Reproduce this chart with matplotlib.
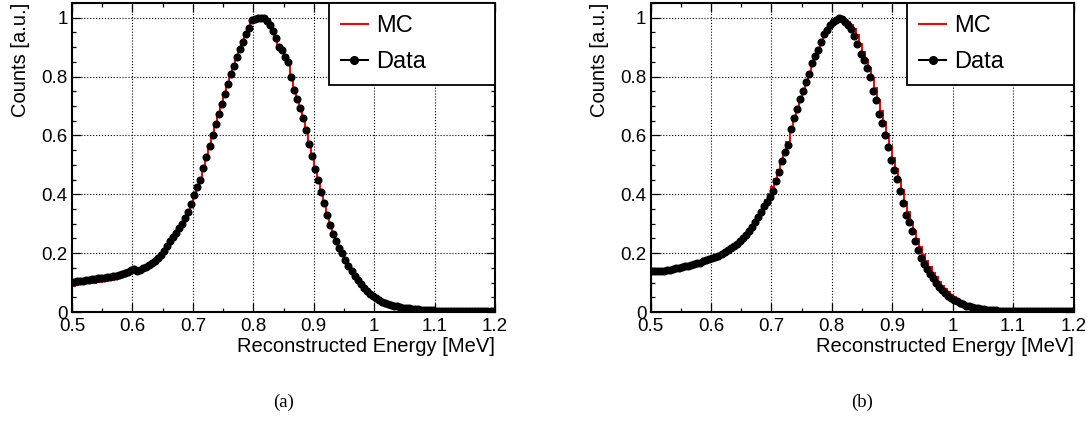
import matplotlib
matplotlib.use("Agg")
import matplotlib.pyplot as plt
from matplotlib.lines import Line2D
from matplotlib.ticker import MultipleLocator, FuncFormatter
import numpy as np

# Histogram range (MeV), 140 bins of 5 keV
e_min, e_max = 0.5, 1.2

# (a) normalised counts per bin
data_a = [
    0.102, 0.104, 0.105, 0.107, 0.108, 0.110, 0.111, 0.112, 0.114, 0.115,
    0.116, 0.118, 0.120, 0.122, 0.124, 0.127, 0.130, 0.133, 0.137, 0.142,
    0.147, 0.141, 0.144, 0.149, 0.154, 0.159, 0.166, 0.174, 0.183, 0.195,
    0.208, 0.224, 0.240, 0.254, 0.268, 0.285, 0.300, 0.318, 0.340, 0.368,
    0.398, 0.425, 0.448, 0.488, 0.527, 0.563, 0.600, 0.638, 0.672, 0.708,
    0.742, 0.776, 0.808, 0.836, 0.866, 0.893, 0.918, 0.945, 0.965, 0.993,
    0.996, 1.000, 1.000, 0.999, 0.990, 0.975, 0.955, 0.930, 0.902, 0.890,
    0.868, 0.850, 0.800, 0.755, 0.725, 0.693, 0.660, 0.620, 0.572, 0.530,
    0.487, 0.447, 0.408, 0.370, 0.330, 0.295, 0.265, 0.240, 0.218, 0.200,
    0.178, 0.158, 0.140, 0.124, 0.108, 0.094, 0.082, 0.071, 0.062, 0.053,
    0.046, 0.040, 0.035, 0.031, 0.027, 0.024, 0.021, 0.019, 0.017, 0.015,
    0.013, 0.012, 0.011, 0.010, 0.009, 0.008, 0.007, 0.007, 0.006, 0.006,
    0.005, 0.005, 0.005, 0.004, 0.004, 0.004, 0.004, 0.003, 0.003, 0.003,
    0.003, 0.003, 0.003, 0.002, 0.002, 0.002, 0.002, 0.002, 0.002, 0.002,
]
mc_a = [
    0.090, 0.092, 0.094, 0.095, 0.097, 0.098, 0.099, 0.100, 0.102, 0.103,
    0.104, 0.106, 0.108, 0.110, 0.112, 0.115, 0.118, 0.121, 0.125, 0.129,
    0.133, 0.134, 0.138, 0.143, 0.149, 0.155, 0.162, 0.170, 0.180, 0.192,
    0.206, 0.221, 0.237, 0.252, 0.267, 0.284, 0.301, 0.320, 0.342, 0.369,
    0.397, 0.426, 0.455, 0.490, 0.527, 0.565, 0.601, 0.638, 0.673, 0.708,
    0.742, 0.775, 0.806, 0.836, 0.865, 0.892, 0.918, 0.943, 0.965, 0.985,
    0.997, 1.000, 1.000, 0.996, 0.987, 0.974, 0.955, 0.932, 0.906, 0.884,
    0.862, 0.838, 0.803, 0.760, 0.726, 0.693, 0.660, 0.620, 0.575, 0.532,
    0.489, 0.448, 0.408, 0.370, 0.332, 0.298, 0.267, 0.241, 0.218, 0.198,
    0.177, 0.157, 0.139, 0.123, 0.108, 0.094, 0.081, 0.070, 0.061, 0.052,
    0.045, 0.039, 0.034, 0.030, 0.026, 0.023, 0.020, 0.018, 0.016, 0.014,
    0.012, 0.011, 0.010, 0.009, 0.008, 0.007, 0.007, 0.006, 0.006, 0.005,
    0.005, 0.005, 0.004, 0.004, 0.004, 0.004, 0.003, 0.003, 0.003, 0.003,
    0.003, 0.003, 0.002, 0.002, 0.002, 0.002, 0.002, 0.002, 0.002, 0.002,
]

# (b)
data_b = [
    0.141, 0.140, 0.140, 0.140, 0.140, 0.142, 0.144, 0.146, 0.148, 0.150,
    0.152, 0.155, 0.157, 0.160, 0.162, 0.165, 0.168, 0.172, 0.176, 0.180,
    0.184, 0.188, 0.192, 0.197, 0.203, 0.209, 0.216, 0.224, 0.232, 0.241,
    0.251, 0.263, 0.276, 0.290, 0.306, 0.323, 0.341, 0.360, 0.375, 0.392,
    0.412, 0.445, 0.475, 0.512, 0.545, 0.568, 0.622, 0.658, 0.690, 0.725,
    0.752, 0.782, 0.810, 0.845, 0.870, 0.892, 0.918, 0.945, 0.958, 0.974,
    0.985, 0.992, 1.000, 0.995, 0.986, 0.975, 0.962, 0.938, 0.910, 0.878,
    0.855, 0.830, 0.800, 0.752, 0.722, 0.672, 0.642, 0.600, 0.560, 0.515,
    0.482, 0.452, 0.410, 0.370, 0.328, 0.305, 0.276, 0.240, 0.210, 0.182,
    0.162, 0.146, 0.130, 0.114, 0.098, 0.086, 0.075, 0.065, 0.056, 0.048,
    0.042, 0.036, 0.031, 0.026, 0.022, 0.019, 0.016, 0.014, 0.012, 0.010,
    0.009, 0.008, 0.007, 0.006, 0.006, 0.005, 0.005, 0.005, 0.004, 0.004,
    0.004, 0.004, 0.003, 0.003, 0.003, 0.003, 0.003, 0.003, 0.002, 0.002,
    0.002, 0.002, 0.002, 0.002, 0.002, 0.002, 0.002, 0.002, 0.002, 0.002,
]
mc_b = [
    0.138, 0.139, 0.139, 0.140, 0.141, 0.142, 0.144, 0.146, 0.148, 0.150,
    0.152, 0.154, 0.157, 0.159, 0.162, 0.165, 0.168, 0.172, 0.176, 0.180,
    0.184, 0.188, 0.193, 0.198, 0.203, 0.209, 0.216, 0.224, 0.232, 0.242,
    0.253, 0.265, 0.278, 0.292, 0.307, 0.324, 0.342, 0.362, 0.380, 0.400,
    0.425, 0.452, 0.482, 0.514, 0.545, 0.578, 0.616, 0.652, 0.688, 0.722,
    0.754, 0.784, 0.813, 0.843, 0.869, 0.894, 0.918, 0.942, 0.960, 0.976,
    0.988, 0.996, 1.004, 1.000, 0.992, 0.984, 0.974, 0.960, 0.940, 0.912,
    0.885, 0.857, 0.828, 0.795, 0.760, 0.722, 0.684, 0.645, 0.605, 0.565,
    0.525, 0.487, 0.450, 0.413, 0.375, 0.340, 0.307, 0.276, 0.247, 0.220,
    0.195, 0.172, 0.152, 0.134, 0.118, 0.103, 0.090, 0.078, 0.068, 0.059,
    0.051, 0.044, 0.038, 0.033, 0.028, 0.024, 0.020, 0.017, 0.015, 0.013,
    0.011, 0.010, 0.009, 0.008, 0.007, 0.006, 0.006, 0.005, 0.005, 0.005,
    0.004, 0.004, 0.004, 0.004, 0.003, 0.003, 0.003, 0.003, 0.003, 0.003,
    0.002, 0.002, 0.002, 0.002, 0.002, 0.002, 0.002, 0.002, 0.002, 0.002,
]

captions = ["(a)", "(b)"]

plt.rcParams['font.family'] = ['Liberation Sans', 'DejaVu Sans']

fig = plt.figure(figsize=(10.88, 4.23), dpi=100)
ax_a = fig.add_axes([0.0662, 0.2624, 0.3888, 0.7305])
ax_b = fig.add_axes([0.5979, 0.2624, 0.3888, 0.7305])

fmt = FuncFormatter(lambda v, pos: "%g" % round(v, 3))


def draw_panel(ax, mc, data):
    mc = np.asarray(mc)
    data = np.asarray(data)
    edges = np.linspace(e_min, e_max, len(mc) + 1)
    d_edges = np.linspace(e_min, e_max, len(data) + 1)
    centers = 0.5 * (d_edges[:-1] + d_edges[1:])

    ax.stairs(mc, edges, baseline=0, color='red', linewidth=1.5, zorder=2)
    ax.plot(centers, data, 'o', color='black', markersize=4.8, zorder=3)

    ax.set_xlim(e_min, e_max)
    ax.set_ylim(0, 1.05)
    ax.xaxis.set_major_locator(MultipleLocator(0.1))
    ax.xaxis.set_minor_locator(MultipleLocator(0.05))
    ax.yaxis.set_major_locator(MultipleLocator(0.2))
    ax.yaxis.set_minor_locator(MultipleLocator(0.05))
    ax.xaxis.set_major_formatter(fmt)
    ax.yaxis.set_major_formatter(fmt)

    ax.tick_params(which='both', direction='in', top=True, right=True, width=0.9)
    ax.tick_params(which='major', length=6.5, labelsize=13.5)
    ax.tick_params(axis='x', which='major', pad=4)
    ax.tick_params(axis='y', which='major', pad=3)
    ax.tick_params(which='minor', length=3.2)
    for sp in ax.spines.values():
        sp.set_linewidth(1.5)

    ax.grid(True, which='major', linestyle=':', color='black', linewidth=0.8)
    ax.set_axisbelow(True)

    ax.set_xlabel('Reconstructed Energy [MeV]', loc='right', fontsize=14.5, labelpad=2)
    ax.set_ylabel('Counts [a.u.]', loc='top', fontsize=14.5, labelpad=8)

    handles = [Line2D([], [], color='red', linewidth=1.5),
               Line2D([], [], color='black', linewidth=1.5, marker='o', markersize=5.5)]
    leg = ax.legend(handles, ['MC', 'Data'], loc='upper left',
                    bbox_to_anchor=(0.607, 0.0, 0.393, 1.0), mode='expand',
                    borderaxespad=0, fancybox=False, edgecolor='black',
                    framealpha=1, fontsize=17, handlelength=1.15,
                    handletextpad=0.35, borderpad=0.5, labelspacing=0.62)
    leg.get_frame().set_linewidth(1.3)


draw_panel(ax_a, mc_a, data_a)
draw_panel(ax_b, mc_b, data_b)

for ax, cap in zip([ax_a, ax_b], captions):
    pos = ax.get_position()
    fig.text(pos.x0 + pos.width / 2, 1 - 402 / 423, cap, ha='center', va='center',
             family='Liberation Serif', fontsize=13.5)

fig.savefig('out.png', dpi=100)
